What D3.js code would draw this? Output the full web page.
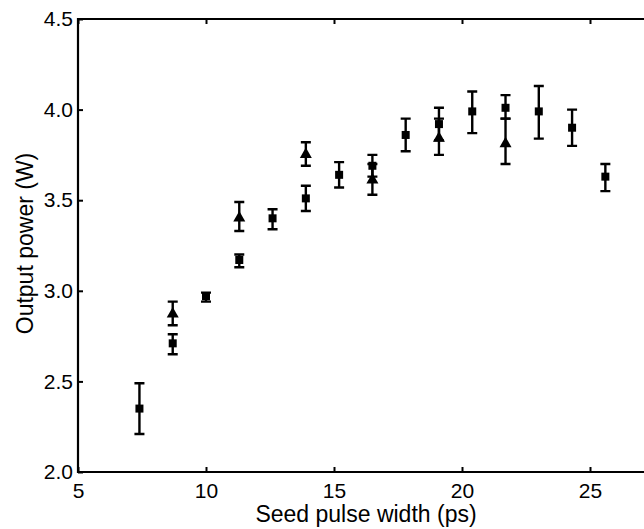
<!DOCTYPE html>
<html>
<head>
<meta charset="utf-8">
<script src="https://cdn.jsdelivr.net/npm/d3@7"></script>
<style>
  body { margin: 0; background: #fff; }
  text { font-family: "Liberation Sans", Arial, sans-serif; fill: #000; }
</style>
</head>
<body>
<div id="chart"></div>
<script>
// square series
const sqX  = [7.4, 8.7, 10.0, 11.3, 12.6, 13.9, 15.2, 16.5, 17.8, 19.1, 20.4, 21.7, 23.0, 24.3, 25.6]
const sqY  = [2.35, 2.71, 2.97, 3.17, 3.40, 3.51, 3.64, 3.69, 3.86, 3.92, 3.99, 4.01, 3.99, 3.90, 3.63]
const sqLo = [2.21, 2.65, 2.94, 3.13, 3.34, 3.44, 3.57, 3.63, 3.77, 3.83, 3.87, 3.95, 3.84, 3.80, 3.55]
const sqHi = [2.49, 2.76, 2.99, 3.20, 3.45, 3.58, 3.71, 3.75, 3.95, 4.01, 4.10, 4.08, 4.13, 4.00, 3.70]

// triangle series
const trX  = [8.7, 11.3, 13.9, 16.5, 19.1, 21.7]
const trY  = [2.88, 3.41, 3.76, 3.62, 3.85, 3.82]
const trLo = [2.81, 3.33, 3.69, 3.53, 3.75, 3.70]
const trHi = [2.94, 3.49, 3.82, 3.70, 3.95, 3.95]

const xTicks = [5, 10, 15, 20, 25]
const yTicks = [2.0, 2.5, 3.0, 3.5, 4.0, 4.5]

const width = 644, height = 529
const mLeft = 78, mTop = 19, mBottom = 472

const svg = d3.select("#chart")
  .append("svg")
  .attr("width", width)
  .attr("height", height)

const x = d3.scaleLinear().domain([5, 30]).range([mLeft, mLeft + 25 * 25.6])
const y = d3.scaleLinear().domain([2, 4.5]).range([mBottom, mTop])

// axes (ticks pointing inward)
const xAxis = svg.append("g")
  .attr("transform", `translate(0,${mBottom})`)
  .call(d3.axisBottom(x).tickValues(xTicks).tickSizeInner(-5).tickSizeOuter(0).tickPadding(11).tickFormat(d3.format("d")))
const xTop = svg.append("g")
  .attr("transform", `translate(0,${mTop})`)
  .call(d3.axisTop(x).tickValues(xTicks).tickSizeInner(-5).tickSizeOuter(0).tickFormat(""))
const yAxis = svg.append("g")
  .attr("transform", `translate(${mLeft},0)`)
  .call(d3.axisLeft(y).tickValues(yTicks).tickSizeInner(-5).tickSizeOuter(0).tickPadding(5).tickFormat(d3.format(".1f")))

for (const g of [xAxis, xTop, yAxis]) {
  g.select(".domain").remove()
  g.selectAll(".tick line").attr("stroke", "#000").attr("stroke-width", 2)
  g.selectAll(".tick text").style("font-size", "21px").attr("fill", "#000")
}

// frame
svg.append("path")
  .attr("d", `M${x(30)},${mTop}H${mLeft}V${mBottom}H${x(30)}`)
  .attr("fill", "none")
  .attr("stroke", "#000")
  .attr("stroke-width", 2.2)

// axis titles
svg.append("text")
  .attr("x", 366)
  .attr("y", 522)
  .attr("text-anchor", "middle")
  .style("font-size", "23px")
  .text("Seed pulse width (ps)")

svg.append("text")
  .attr("transform", `translate(33,${y(3.25) - 2}) rotate(-90)`)
  .attr("text-anchor", "middle")
  .style("font-size", "23px")
  .text("Output power (W)")

const capW = 5

function errorBars(xs, lo, hi) {
  const g = svg.append("g").attr("stroke", "#000").attr("stroke-width", 2.4).attr("fill", "none")
  g.selectAll("path")
    .data(xs.map((d, i) => ({ x: d, lo: lo[i], hi: hi[i] })))
    .enter()
    .append("path")
    .attr("d", d => `M${x(d.x)},${y(d.lo)}V${y(d.hi)}` +
      `M${x(d.x) - capW},${y(d.lo)}H${x(d.x) + capW}` +
      `M${x(d.x) - capW},${y(d.hi)}H${x(d.x) + capW}`)
}

errorBars(trX, trLo, trHi)
errorBars(sqX, sqLo, sqHi)

// triangles
svg.append("g")
  .selectAll("path")
  .data(trX.map((d, i) => ({ x: d, y: trY[i] })))
  .enter()
  .append("path")
  .attr("d", d => `M${x(d.x)},${y(d.y) - 5.5}L${x(d.x) + 6},${y(d.y) + 5}L${x(d.x) - 6},${y(d.y) + 5}Z`)
  .attr("fill", "#000")

// squares
const sq = 8
svg.append("g")
  .selectAll("rect")
  .data(sqX.map((d, i) => ({ x: d, y: sqY[i] })))
  .enter()
  .append("rect")
  .attr("x", d => x(d.x) - sq / 2)
  .attr("y", d => y(d.y) - sq / 2)
  .attr("width", sq)
  .attr("height", sq)
  .attr("fill", "#000")
</script>
</body>
</html>
